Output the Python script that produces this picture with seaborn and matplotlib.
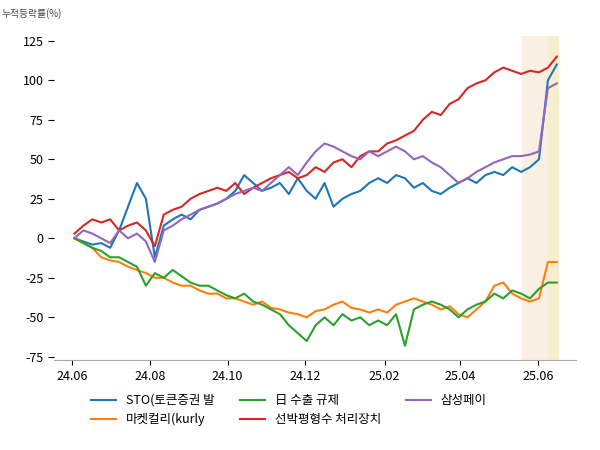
import pandas as pd
import matplotlib
matplotlib.use('Agg')
import matplotlib.pyplot as plt
import matplotlib.dates as mdates
import seaborn as sns

plt.rcParams['font.family'] = ['Noto Sans CJK KR', 'Noto Sans CJK JP', 'Noto Sans CJK SC', 'DejaVu Sans']
plt.rcParams['axes.unicode_minus'] = False

# weekly cumulative returns (%), starting 2024-06-03
names = ['STO(토큰증권 발', '마켓컬리(kurly', '日 수출 규제', '선박평형수 처리장치', '삼성페이']
sto = [0, -2, -4, -3, -6, 5, 20, 35, 25, -12, 8, 12, 15, 12, 18, 20, 22, 25, 30, 40,
       35, 30, 32, 35, 28, 38, 30, 25, 35, 20, 25, 28, 30, 35, 38, 35, 40, 38, 32, 35,
       30, 28, 32, 35, 38, 35, 40, 42, 40, 45, 42, 45, 50, 100, 110]
kurly = [0, -3, -6, -12, -14, -15, -18, -20, -22, -25, -25, -28, -30, -30, -33, -35, -35, -38, -38, -40,
         -42, -40, -44, -45, -47, -48, -50, -46, -45, -42, -40, -44, -45, -47, -45, -47, -42, -40, -38, -40,
         -42, -45, -43, -48, -50, -45, -40, -30, -28, -35, -38, -40, -38, -15, -15]
japan = [0, -3, -6, -8, -12, -12, -15, -18, -30, -22, -25, -20, -24, -28, -30, -30, -33, -36, -38, -35,
         -40, -42, -45, -48, -55, -60, -65, -55, -50, -55, -48, -52, -50, -55, -52, -55, -48, -68, -45, -42,
         -40, -42, -45, -50, -45, -42, -40, -35, -38, -33, -35, -38, -32, -28, -28]
ballast = [3, 8, 12, 10, 12, 5, 8, 10, 5, -5, 15, 18, 20, 25, 28, 30, 32, 30, 35, 28,
           32, 35, 38, 40, 42, 38, 40, 45, 42, 48, 50, 45, 52, 55, 55, 60, 62, 65, 68, 75,
           80, 78, 85, 88, 95, 98, 100, 105, 108, 106, 104, 106, 105, 108, 115]
spay = [0, 5, 3, 0, -3, 5, 0, 3, -2, -15, 5, 8, 12, 15, 18, 20, 22, 25, 28, 30,
        32, 30, 35, 40, 45, 40, 48, 55, 60, 58, 55, 52, 50, 55, 52, 55, 58, 55, 50, 52,
        48, 45, 40, 35, 38, 42, 45, 48, 50, 52, 52, 53, 55, 95, 98]

dates = pd.date_range('2024-06-03', periods=len(sto), freq='W-MON')
df = pd.DataFrame({'date': dates, names[0]: sto, names[1]: kurly, names[2]: japan,
                   names[3]: ballast, names[4]: spay})
long = df.melt(id_vars='date', var_name='theme', value_name='ret')

fig, ax = plt.subplots(figsize=(6, 4.5), dpi=100)
ax.axvspan(pd.Timestamp('2025-05-20'), pd.Timestamp('2025-06-09'), color='#faefe3', zorder=0)
ax.axvspan(pd.Timestamp('2025-06-09'), pd.Timestamp('2025-06-17'), color='#f6efcf', zorder=0)
sns.lineplot(data=long, x='date', y='ret', hue='theme', hue_order=names,
             palette=['#1f77b4', '#ff7f0e', '#2ca02c', '#d62728', '#9467bd'], ax=ax, linewidth=1.5)

ax.set_ylim(-77, 128)
ax.set_yticks(range(-75, 126, 25))
ax.set_xlim(pd.Timestamp('2024-05-18'), pd.Timestamp('2025-07-01'))
ax.xaxis.set_major_locator(mdates.MonthLocator(bymonth=[2, 4, 6, 8, 10, 12]))
ax.xaxis.set_major_formatter(mdates.DateFormatter('%y.%m'))
ax.set_xlabel('')
ax.set_ylabel('')
ax.tick_params(labelsize=9)
ax.tick_params(axis='y', length=4)
for s in ['top', 'right', 'left']:
    ax.spines[s].set_visible(False)
ax.spines['bottom'].set_color('#aaaaaa')
ax.text(-0.1, 1.06, '누적등락률(%)', transform=ax.transAxes, fontsize=7, color='#444444')
ax.legend(loc='upper center', bbox_to_anchor=(0.45, -0.07), ncol=3, frameon=False, fontsize=9)

plt.subplots_adjust(left=0.09, right=0.96, top=0.92, bottom=0.2)
plt.savefig('out.png', dpi=100)
